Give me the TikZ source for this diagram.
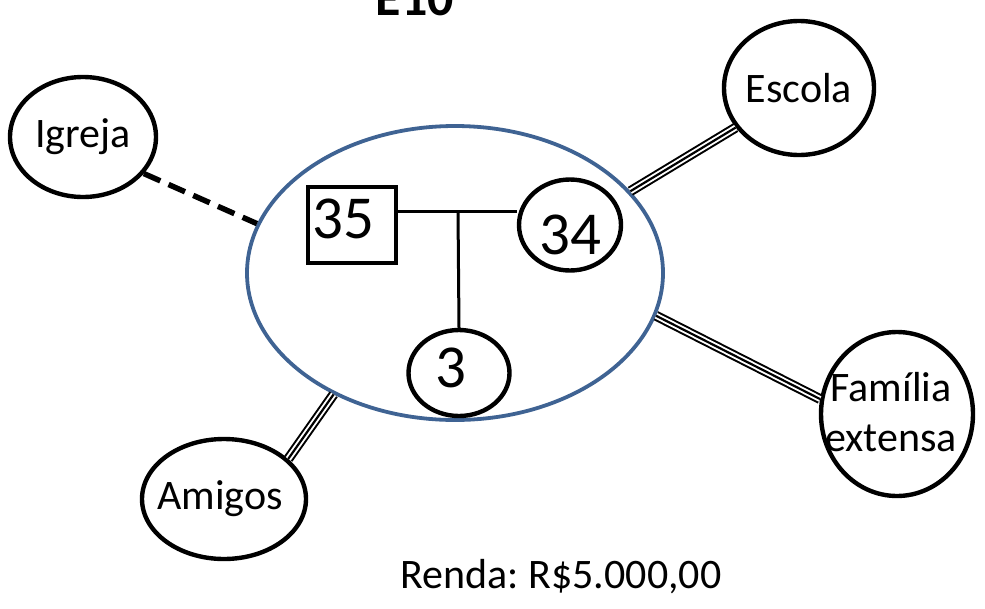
\documentclass[tikz,border=0pt]{standalone}
\usepackage{fontspec}
\setmainfont{Carlito}
\usetikzlibrary{shapes.geometric}
\definecolor{ecoblue}{HTML}{3F6393}
\tikzset{
rel/.style={draw,ellipse,line width=4.4pt,inner sep=0pt},
num/.style={font=\fontsize{61}{66}\selectfont},
txt/.style={font=\fontsize{42}{50}\selectfont,align=center},
triple/.style={line width=10pt,postaction={draw,white,line width=6pt},postaction={draw,black,line width=2.2pt}},
dashline/.style={line width=5.5pt,dash pattern=on 18pt off 9pt},
kin/.style={line width=3pt}
}
\begin{document}
\begin{tikzpicture}[x=1pt,y=-1pt]
\clip (0,0) rectangle (985,608);
\node[draw=ecoblue,ellipse,line width=3.8pt,inner sep=0pt,minimum width=416pt,minimum height=294pt] (eco) at (455,273) {};
\node[rel,minimum width=146pt,minimum height=120pt,label={[txt]center:Igreja}] (igreja) at (83,137) {};
\node[rel,minimum width=150pt,minimum height=134pt,label={[txt]center:Escola}] (escola) at (799,88) {};
\node[rel,minimum width=152pt,minimum height=164pt,label={[txt,xshift=-6pt,yshift=2pt]center:Família\\extensa}] (familia) at (897,414) {};
\node[rel,minimum width=164pt,minimum height=120pt,label={[txt,xshift=-4pt]center:Amigos}] (amigos) at (224,499) {};
\node[draw,rectangle,line width=4.4pt,inner sep=0pt,minimum width=88pt,minimum height=76pt,label={[num,xshift=-9pt,yshift=6pt]center:35}] (pai) at (352,225) {};
\node[rel,minimum width=102pt,minimum height=91pt,label={[num,yshift=-10pt]center:34}] (mae) at (570,225) {};
\node[rel,minimum width=101pt,minimum height=86pt,label={[num,xshift=-8pt,yshift=5pt]center:3}] (filho) at (459,373) {};
\coordinate (uniao) at (458,211);
\draw[kin] (uniao -| pai.east) -- (uniao -| mae.west);
\draw[kin] (uniao) -- (filho.north);
\draw[dashline] (igreja.-31) -- (eco.166);
\draw[triple] (eco.25) -- (escola.212);
\draw[triple] (eco.-12) -- (familia.169);
\draw[triple] (eco.225) -- (amigos.32);
\node[font=\fontsize{52}{60}\selectfont\bfseries,anchor=base] (titulo) at (415,15) {E10};
\node[txt,anchor=base] (renda) at (561,588) {Renda:\ R\$5.000,00};
\end{tikzpicture}
\end{document}
